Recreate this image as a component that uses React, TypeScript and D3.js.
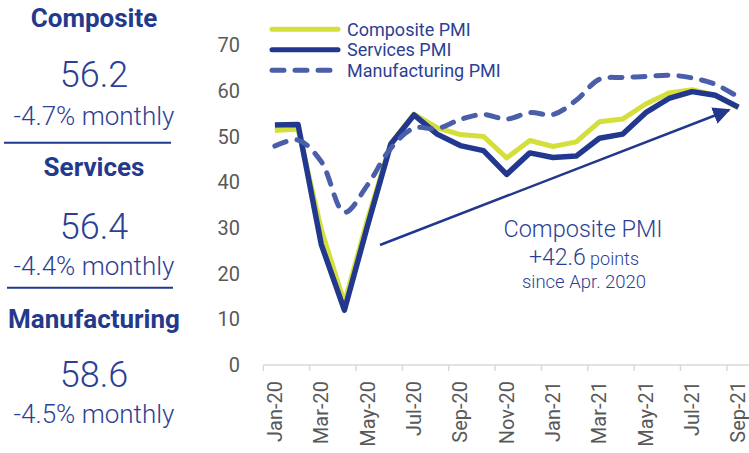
import React from "react";
import * as d3 from "d3";

const months = ["Jan-20","Feb-20","Mar-20","Apr-20","May-20","Jun-20","Jul-20","Aug-20","Sep-20","Oct-20","Nov-20","Dec-20","Jan-21","Feb-21","Mar-21","Apr-21","May-21","Jun-21","Jul-21","Aug-21","Sep-21"];
const composite = [51.3,51.6,29.7,13.6,31.9,48.5,54.9,51.9,50.4,50.0,45.3,49.1,47.8,48.8,53.2,53.8,57.1,59.5,60.2,59.0,56.2];
const services = [52.5,52.6,26.4,12.0,30.5,48.3,54.7,50.5,48.0,46.9,41.7,46.4,45.4,45.7,49.6,50.5,55.2,58.3,59.8,59.0,56.4];
const manufacturing = [47.9,49.2,44.5,33.4,39.4,47.4,51.8,51.7,53.7,54.8,53.8,55.2,54.8,57.9,62.5,62.9,63.1,63.4,62.8,61.4,58.6];
const yTicks = [0,10,20,30,40,50,60,70];
const seriesNames = ["Composite PMI","Services PMI","Manufacturing PMI"];
const panelTitles = ["Composite","Services","Manufacturing"];
const panelValues = ["56.2","56.4","58.6"];
const panelChanges = ["-4.7% monthly","-4.4% monthly","-4.5% monthly"];

const W = 749, H = 453;
const YELLOW = "#d5df3c";
const NAVY = "#22388e";
const DASH = "#4a5ea9";
const TXT = "#2c3f95";
const GRAY = "#595959";

export default function App() {
  const x = d3.scaleBand<string>().domain(months).range([263.3, 750]).padding(0);
  const y = d3.scaleLinear().domain([0, 70]).range([365, 45]);
  const cx = (i: number) => (x(months[i]) as number) + x.bandwidth() / 2;

  const lineLin = d3.line<number>().x((_, i) => cx(i)).y((d) => y(d)).curve(d3.curveLinear);
  const lineSmooth = d3.line<number>().x((_, i) => cx(i)).y((d) => y(d)).curve(d3.curveCatmullRom.alpha(0.5));

  const tickIdx = months.map((_, i) => i).filter((i) => i % 2 === 0);

  const panelY = [
    { t: 26.7, v: 87.3, c: 125, line: 142.7, lx: [4, 171] },
    { t: 175.7, v: 239, c: 275, line: 287.7, lx: [7, 173] },
    { t: 328.3, v: 387, c: 423, line: null, lx: null },
  ];

  return (
    <svg width={W} height={H} style={{ position: "absolute", left: 0, top: 0, background: "#fff" }} fontFamily="Roboto, 'Noto Sans', sans-serif">
      <defs>
        <marker id="arrow" viewBox="0 0 10 10" refX="9" refY="5" markerWidth="7" markerHeight="7" markerUnits="strokeWidth" orient="auto">
          <path d="M0,0 L10,5 L0,10 z" fill={NAVY} />
        </marker>
      </defs>

      {/* Left panel */}
      {panelTitles.map((t, i) => (
        <g key={t}>
          <text x={94} y={panelY[i].t} textAnchor="middle" fontSize={26} fontWeight={700} fill="#233a8c">{t}</text>
          <text x={94} y={panelY[i].v} textAnchor="middle" fontSize={36} fontWeight={300} fill={TXT}>{panelValues[i]}</text>
          <text x={94} y={panelY[i].c} textAnchor="middle" fontSize={26} fontWeight={300} fill={TXT}>{panelChanges[i]}</text>
          {panelY[i].line && (
            <line x1={panelY[i].lx![0]} x2={panelY[i].lx![1]} y1={panelY[i].line!} y2={panelY[i].line!} stroke="#22388e" strokeWidth={2} />
          )}
        </g>
      ))}

      {/* Y axis labels */}
      {yTicks.map((v) => (
        <text key={v} x={240} y={y(v)} dy="0.36em" textAnchor="end" fontSize={20} fill={GRAY}>{v}</text>
      ))}

      {/* X axis */}
      <line x1={263.3} x2={750} y1={365} y2={365} stroke="#d9d9d9" strokeWidth={1.5} />
      {tickIdx.map((i) => (
        <line key={"t" + i} x1={x(months[i]) as number} x2={x(months[i]) as number} y1={365} y2={371} stroke="#d9d9d9" strokeWidth={1.5} />
      ))}
      {tickIdx.map((i) => (
        <text key={"l" + i} transform={`translate(${cx(i) + 7},${381}) rotate(-90)`} textAnchor="end" fontSize={20} fill={GRAY}>{months[i]}</text>
      ))}

      {/* Lines */}
      <path d={lineLin(composite) || ""} fill="none" stroke={YELLOW} strokeWidth={5} strokeLinejoin="round" />
      <path d={lineLin(services) || ""} fill="none" stroke={NAVY} strokeWidth={5.5} strokeLinejoin="round" />
      <path d={lineSmooth(manufacturing) || ""} fill="none" stroke={DASH} strokeWidth={5} strokeDasharray="12 11" strokeLinecap="round" strokeLinejoin="round" />

      {/* Legend */}
      {seriesNames.map((n, i) => {
        const ly = 29.3 + i * 20.5;
        return (
          <g key={n}>
            <line x1={272} x2={338} y1={ly} y2={ly} stroke={i === 0 ? YELLOW : i === 1 ? NAVY : DASH} strokeWidth={5} strokeLinecap="round" strokeDasharray={i === 2 ? "12 11" : undefined} />
            <text x={347} y={ly} dy="0.36em" fontSize={18} fill={TXT}>{n}</text>
          </g>
        );
      })}

      {/* Annotation */}
      <line x1={380} y1={245} x2={729} y2={110} stroke={NAVY} strokeWidth={2.5} markerEnd="url(#arrow)" />
      <text x={583} y={236.7} textAnchor="middle" fontSize={23.5} fontWeight={300} fill={TXT}>Composite PMI</text>
      <text x={584} y={265} textAnchor="middle" fill={TXT} fontWeight={300}>
        <tspan fontSize={23}>+42.6</tspan>
        <tspan fontSize={18}> points</tspan>
      </text>
      <text x={584} y={288.3} textAnchor="middle" fontSize={18.5} fontWeight={300} fill={TXT}>since Apr. 2020</text>
    </svg>
  );
}
